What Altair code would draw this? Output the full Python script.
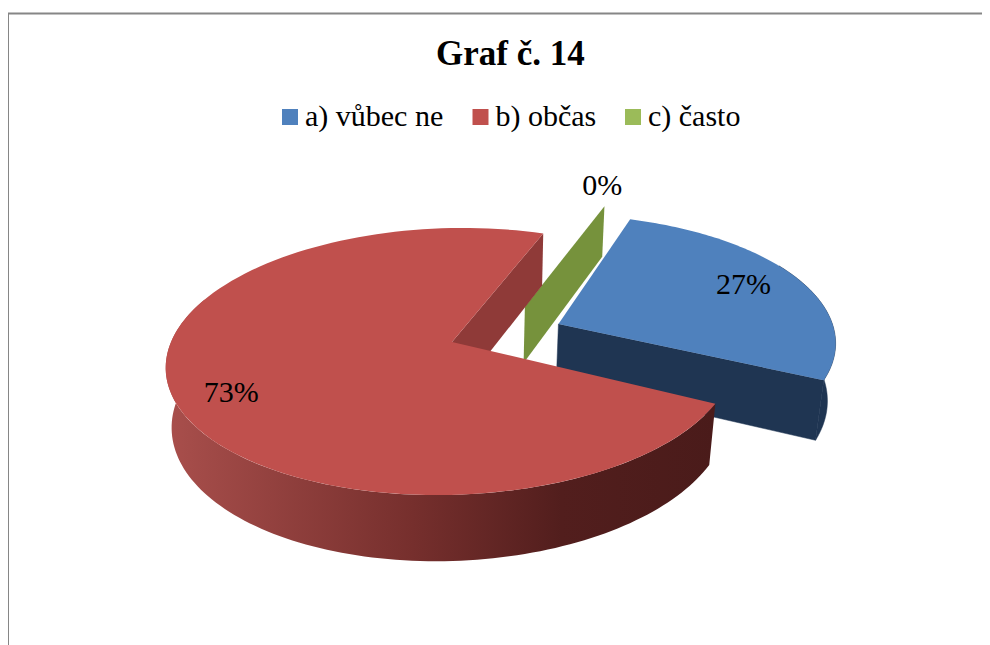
import math
import altair as alt

categories = ["a) vůbec ne", "b) občas", "c) často"]
values = [27, 73, 0]
labels = ["27%", "73%", "0%"]
title_text = "Graf č. 14"
top_colors = ["#4f81bd", "#c0504d", "#9bbb59"]

# Pie construction: exploded 3D pie in perspective
START = 19.0
EXPLODE = [(0.38, 0.14), (0.0, 0.0), (0.257, 0.28)]
RADIUS = [0.995, 1.0, 1.0]
ROTATE = [-1.2, 0.0, 0.0]
LABEL_POLAR = [(65.4, 0.776), (243.0, 0.815), (15.5, 1.21)]
K = 0.146
SHEAR = -0.1
TOP = dict(cx=452.0, cy=342.0, rx=281.0, ry=130.7)
BOT = dict(cx=452.0, cy=400.0, rx=275.0, ry=137.7)
SERIF = "Liberation Serif"


def proj(u, v, plane=TOP):
    w = 1 + K * v
    dy = -plane["ry"] * v / w
    return [plane["cx"] + plane["rx"] * u / w + SHEAR * dy, plane["cy"] + dy]


def rim(i, deg, plane=TOP, r=None):
    a = math.radians(deg)
    ou, ov = EXPLODE[i]
    r = RADIUS[i] if r is None else r
    return proj(ou + r * math.sin(a), ov + r * math.cos(a), plane)


def arc(i, a0, a1, plane=TOP, steps=120):
    return [rim(i, a0 + (a1 - a0) * s / steps, plane) for s in range(steps + 1)]


def feature(ring, **props):
    return {"type": "Feature", "properties": props,
            "geometry": {"type": "Polygon", "coordinates": [ring + [ring[0]]]}}


spans = {}
cursor = START
for i, val in enumerate(values):
    end = cursor + 360.0 * val / sum(values)
    spans[i] = (cursor + ROTATE[i], end + ROTATE[i])
    cursor = end

PROJ = dict(type="identity", scale=1, translate=[-8, -8])


def apex(i, plane=TOP):
    return rim(i, 0, plane, r=0.0)


def layer(features, **mark):
    return alt.Chart(alt.Data(values=features)).mark_geoshape(**mark).project(**PROJ)


# blue side walls
b0, b1 = spans[0]
blue_wall = feature([apex(0), rim(0, b1), rim(0, b1, BOT), apex(0, BOT)])
blue_rim = feature(arc(0, 60, b1) + arc(0, b1, 60, BOT))
blue_side = layer([blue_wall, blue_rim], fill="#1f3552", stroke="#1f3552", strokeWidth=0.5)

# green sliver wall (0 % slice)
g0, _ = spans[2]
green_wall = layer(
    [feature([apex(2), rim(2, g0), rim(2, g0, BOT), apex(2, BOT)])],
    fill="#76923c", strokeWidth=0,
)

# red outer wall, with its left-to-right shading
r0, r1 = spans[1]
red_side = layer(
    [feature(arc(1, r0, 290) + arc(1, 290, r0, BOT))],
    fill=alt.Gradient(
        gradient="linear", x1=0, x2=1, y1=0, y2=0,
        stops=[
            alt.GradientStop(offset=0.0, color="#a94f4c"),
            alt.GradientStop(offset=0.45, color="#762f2d"),
            alt.GradientStop(offset=0.72, color="#521e1d"),
            alt.GradientStop(offset=1.0, color="#4a1b1a"),
        ],
    ),
    strokeWidth=0,
)

# red inner wall
red_wall = layer(
    [feature([apex(1), rim(1, r1), rim(1, r1, BOT), apex(1, BOT)])],
    fill="#8f3a38", strokeWidth=0,
)

# top faces, carrying the legend
tops = []
for i, cat in enumerate(categories):
    a0, a1 = spans[i]
    tops.append(feature([apex(i)] + arc(i, a0, a1), slice=cat))

top_faces = layer(tops, strokeWidth=0).encode(
    color=alt.Color(
        "properties.slice:N",
        scale=alt.Scale(domain=categories, range=top_colors),
        legend=alt.Legend(
            title=None, orient="none", direction="horizontal", columns=3,
            legendX=267, legendY=94,
            symbolType="square", symbolSize=256, symbolStrokeWidth=0,
            labelFont=SERIF, labelFontSize=30, labelColor="#000000",
            labelOffset=0, columnPadding=21.5, labelLimit=300,
            symbolOpacity=1,
        ),
    )
)

# percentage labels
label_rows = []
for i, text in enumerate(labels):
    deg, r = LABEL_POLAR[i]
    x, y = rim(i, deg, TOP, r)
    label_rows.append({"lon": x, "lat": y, "text": text})

label_layer = (
    alt.Chart(alt.Data(values=label_rows))
    .mark_text(font=SERIF, fontSize=30, color="#000000", align="center", baseline="middle")
    .encode(longitude="lon:Q", latitude="lat:Q", text="text:N")
    .project(**PROJ)
)

# chart frame
frame_path = [[8, 700], [8, 13.5], [1000, 13.5]]
frame = alt.Chart(alt.Data(values=[
    {"type": "Feature", "properties": {},
     "geometry": {"type": "LineString", "coordinates": frame_path}}
])).mark_geoshape(filled=False, stroke="#868686", strokeWidth=2).project(**PROJ)

chart = (
    alt.layer(frame, blue_side, green_wall, red_side, red_wall, top_faces, label_layer)
    .properties(
        width=974, height=637,
        title=alt.TitleParams(
            title_text, font=SERIF, fontSize=35, fontWeight="bold", color="#000000",
            anchor="start", frame="group", dx=428, dy=0, offset=-64, baseline="top",
        ),
        padding=0,
        autosize=alt.AutoSizeParams(type="none"),
    )
    .configure_view(stroke=None)
)

chart.save("out.html", embed_options={"renderer": "svg", "actions": False})
